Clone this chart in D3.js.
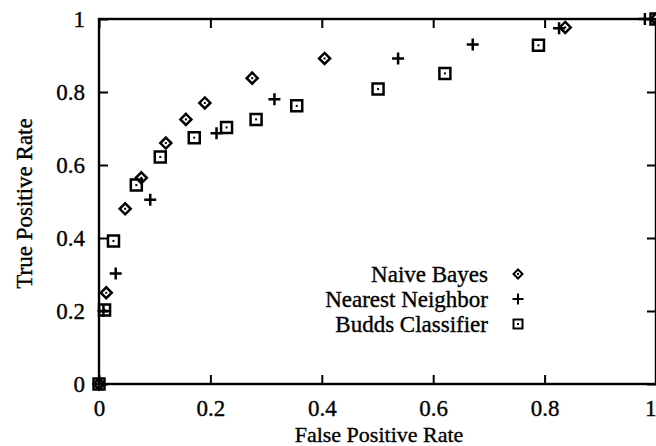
<!DOCTYPE html>
<html>
<head>
<meta charset="utf-8">
<script src="https://cdn.jsdelivr.net/npm/d3@7"></script>
<style>
  body { margin: 0; background: #fff; }
  svg { display: block; }
  text { stroke: #000; stroke-width: 0.35px; }
</style>
</head>
<body>
<div id="chart"></div>
<script>
// tick values / labels shared by both axes
const tickValues = [0, 0.2, 0.4, 0.6, 0.8, 1];
const tickLabels = ["0", "0.2", "0.4", "0.6", "0.8", "1"];

const seriesNames = ["Naive Bayes", "Nearest Neighbor", "Budds Classifier"];

// [false positive rate, true positive rate]
const naiveBayes = [[0, 0], [0.013, 0.25], [0.047, 0.48], [0.076, 0.565], [0.12, 0.66], [0.156, 0.725],
  [0.19, 0.77], [0.275, 0.838], [0.405, 0.892], [0.837, 0.977], [1, 1]];
const nearestNeighbor = [[0, 0], [0.008, 0.2], [0.03, 0.303], [0.092, 0.505], [0.211, 0.687], [0.315, 0.78],
  [0.537, 0.892], [0.671, 0.93], [0.826, 0.975], [0.98, 1]];
const buddsClassifier = [[0, 0], [0.01, 0.203], [0.026, 0.392], [0.067, 0.545], [0.11, 0.622], [0.171, 0.675],
  [0.229, 0.703], [0.282, 0.725], [0.355, 0.762], [0.501, 0.808], [0.621, 0.851], [0.789, 0.928], [1, 1]];

const width = 656, height = 446;
const margin = { top: 19, right: 0, bottom: 62, left: 99 };
const font = "'Liberation Serif', 'Times New Roman', serif";

const x = d3.scaleLinear().domain([0, 1]).range([margin.left, width - margin.right]);
const y = d3.scaleLinear().domain([0, 1]).range([height - margin.bottom, margin.top]);

const svg = d3.select("#chart").append("svg")
  .attr("width", width)
  .attr("height", height)
  .attr("viewBox", [0, 0, width, height]);

// marker shapes (drawn around 0,0)
const diamond = (r) => `M0,${-r}L${r},0L0,${r}L${-r},0Z`;
const square = (r) => `M${-r},${-r}H${r}V${r}H${-r}Z`;
const plus = (r) => `M${-r},0H${r}M0,${-r}V${r}`;

const styleAxis = g => g
  .attr("font-family", font)
  .attr("font-size", 23)
  .call(g => g.select(".domain").remove())
  .call(g => g.selectAll("line").attr("stroke", "#000").attr("stroke-width", 2))
  .call(g => g.selectAll("text").attr("fill", "#000"));

svg.append("g")
  .attr("transform", `translate(0,${y(0)})`)
  .call(d3.axisBottom(x).tickValues(tickValues).tickFormat((d, i) => tickLabels[i]).tickSizeInner(-9).tickSizeOuter(0).tickPadding(16))
  .call(styleAxis)
  .call(g => g.selectAll(".tick:last-of-type text").attr("text-anchor", "end"));

svg.append("g")
  .attr("transform", `translate(0,${y(1)})`)
  .call(d3.axisTop(x).tickValues(tickValues).tickFormat("").tickSizeInner(-9).tickSizeOuter(0))
  .call(styleAxis);

svg.append("g")
  .attr("transform", `translate(${x(0)},0)`)
  .call(d3.axisLeft(y).tickValues(tickValues).tickFormat((d, i) => tickLabels[i]).tickSizeInner(-9).tickSizeOuter(0).tickPadding(14))
  .call(styleAxis);

svg.append("g")
  .attr("transform", `translate(${x(1)},0)`)
  .call(d3.axisRight(y).tickValues(tickValues).tickFormat("").tickSizeInner(-9).tickSizeOuter(0))
  .call(styleAxis);

// frame
svg.append("rect")
  .attr("x", x(0))
  .attr("y", y(1))
  .attr("width", x(1) - x(0))
  .attr("height", y(0) - y(1))
  .attr("fill", "none")
  .attr("stroke", "#000")
  .attr("stroke-width", 2.4);

// axis titles
svg.append("text")
  .attr("x", 379)
  .attr("y", 441.5)
  .attr("text-anchor", "middle")
  .attr("font-family", font)
  .attr("font-size", 22)
  .text("False Positive Rate");

svg.append("text")
  .attr("transform", `translate(32,${(y(0) + y(1)) / 2 + 2}) rotate(-90)`)
  .attr("text-anchor", "middle")
  .attr("font-family", font)
  .attr("font-size", 23)
  .text("True Positive Rate");

// points
const drawMarks = (data, shape, r, dot) => {
  const g = svg.append("g")
    .selectAll("g")
    .data(data)
    .join("g")
    .attr("transform", d => `translate(${x(d[0])},${y(d[1])})`);
  g.append("path")
    .attr("d", shape(r))
    .attr("fill", "none")
    .attr("stroke", "#000")
    .attr("stroke-width", 2.5);
  if (dot) {
    g.append("rect")
      .attr("x", -1).attr("y", -1)
      .attr("width", 2).attr("height", 2)
      .attr("fill", "#000");
  }
};

drawMarks(buddsClassifier, square, 5.5, true);
drawMarks(naiveBayes, diamond, 5.5, true);
drawMarks(nearestNeighbor, plus, 6, false);

// legend
const legendShapes = [[diamond, 4.5, true], [plus, 5.5, false], [square, 4.5, true]];
const legend = svg.append("g")
  .selectAll("g")
  .data(seriesNames)
  .join("g")
  .attr("transform", (d, i) => `translate(0,${274 + i * 25})`);

legend.append("text")
  .attr("x", 488)
  .attr("y", 0)
  .attr("dy", "0.33em")
  .attr("text-anchor", "end")
  .attr("font-family", font)
  .attr("font-size", 23)
  .text(d => d);

legend.each(function (d, i) {
  const [shape, r, dot] = legendShapes[i];
  const g = d3.select(this).append("g").attr("transform", "translate(518,0)");
  g.append("path")
    .attr("d", shape(r))
    .attr("fill", "none")
    .attr("stroke", "#000")
    .attr("stroke-width", 2);
  if (dot) g.append("rect").attr("x", -1).attr("y", -1).attr("width", 2).attr("height", 2).attr("fill", "#000");
});
</script>
</body>
</html>
